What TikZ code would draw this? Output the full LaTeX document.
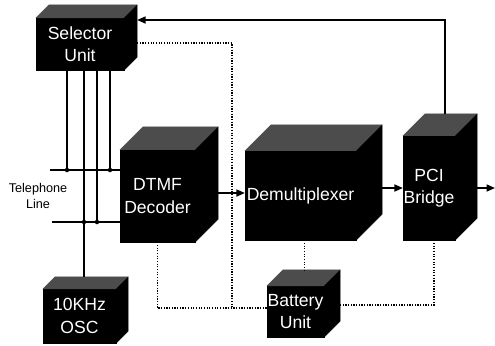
\documentclass[tikz,border=0pt]{standalone}
\usepackage{fontspec}
\setmainfont{Liberation Sans}
\usetikzlibrary{arrows.meta}

\begin{document}
\begin{tikzpicture}[
  x=0.025cm,y=-0.025cm,
  blk/.style={fill=black,draw=black,line width=0.2pt,text=white,inner sep=0pt,
    align=center,font=\fontsize{12.5}{16}\selectfont},
  topface/.style={fill=black!70,draw=black!70,line width=0.2pt},
  sideface/.style={fill=black,draw=black,line width=0.2pt},
  wire/.style={line width=1.1pt},
  link/.style={wire,-{Triangle[length=6pt,width=5pt]}},
  aux/.style={densely dotted,line width=0.9pt}]
  \useasboundingbox (0,0) rectangle (495,345);
  % front faces
  \node[blk,minimum width=2.2cm,minimum height=1.3cm] (sel) at (80,44) {Selector\\Unit};
  \node[blk,minimum width=1.875cm,minimum height=2.3cm] (dtmf) at (157.5,196) {DTMF\\Decoder};
  \node[blk,minimum width=2.775cm,minimum height=2.225cm] (demux) at (300.5,195.5) {Demultiplexer};
  \node[blk,minimum width=1.3cm,minimum height=2.6cm] (pci) at (429,188) {PCI\\Bridge};
  \node[blk,minimum width=1.825cm,minimum height=1.35cm] (osc) at (79.5,316) {10KHz\\OSC};
  \node[blk,minimum width=1.425cm,minimum height=1.275cm] (batt) at (295.5,311.5) {Battery\\Unit};
  \node[font=\fontsize{9}{12}\selectfont,align=center] (tel) at (38,196) {Telephone\\Line};
  % top and side faces
  \foreach \n/\d in {sel/13,dtmf/23,demux/26,pci/22,osc/12,batt/16}{
    \filldraw[topface] (\n.north west) -- ++(\d,-\d) -- ([shift={(\d,-\d)}]\n.north east)
      -- (\n.north east) -- cycle;
    \filldraw[sideface] (\n.north east) -- ++(\d,-\d) -- ([shift={(\d,-\d)}]\n.south east)
      -- (\n.south east) -- cycle;
  }
  % telephone line
  \coordinate (tl1) at (50,170);
  \coordinate (tl2) at (52,222);
  \draw[wire] (tl1) -- ([shift={(0,-26)}]dtmf.west);
  \draw[wire] (tl2) -- ([shift={(0,26)}]dtmf.west);
  \coordinate (s1) at ([shift={(-13,0)}]sel.south);
  \coordinate (s2) at ([shift={(4,0)}]sel.south);
  \coordinate (s3) at ([shift={(17,0)}]sel.south);
  \coordinate (s4) at ([shift={(30,0)}]sel.south);
  \draw[wire] (s1) -- (s1 |- tl1);
  \draw[wire] (s4) -- (s4 |- tl1);
  \draw[wire] (s3) -- (s3 |- tl2);
  \draw[wire] (s2) -- ([shift={(4.5,-12)}]osc.north);
  \foreach \p in {s1,s4} \fill (\p |- tl1) circle[radius=1.6pt];
  \foreach \p in {s2,s3} \fill (\p |- tl2) circle[radius=1.6pt];
  % data path
  \draw[link] ([shift={(23,-3)}]dtmf.east) -- ([shift={(0,-2.5)}]demux.west);
  \draw[link] ([shift={(26,-7.5)}]demux.east) -- (pci.west);
  \coordinate (out) at (495,188);
  \draw[link] ([shift={(22,0)}]pci.east) -- (out);
  \draw[link] ([shift={(16,-22)}]pci.north) |- ([shift={(13,-24)}]sel.east);
  % battery supply
  \coordinate (dj) at (232,308);
  \draw[aux] ([shift={(13,-1)}]sel.east) -| (dj);
  \draw[aux] (dtmf.south) |- ([shift={(0,-3.5)}]batt.west);
  \draw[aux] ([shift={(4,0)}]demux.south) -- ([shift={(9,-16)}]batt.north);
  \draw[aux] ([shift={(5,0)}]pci.south) |- ([shift={(16,-6.5)}]batt.east);
\end{tikzpicture}
\end{document}
